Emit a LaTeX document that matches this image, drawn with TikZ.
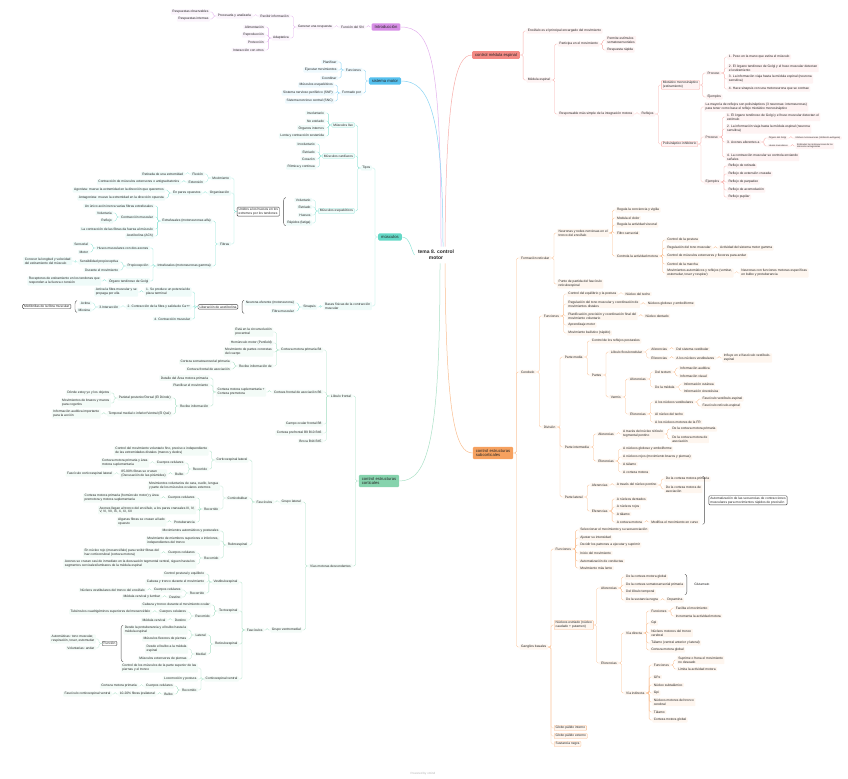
\documentclass[tikz,border=0pt]{standalone}
\usepackage{fontspec}
\setmainfont{Liberation Sans}
\definecolor{cpur}{HTML}{D78EE6}
\definecolor{cblu}{HTML}{55C0EE}
\definecolor{ctea}{HTML}{64D8C6}
\definecolor{cgre}{HTML}{86D3AD}
\definecolor{cred}{HTML}{F38A84}
\definecolor{cora}{HTML}{F6A15F}
\colorlet{brc}{cpur}

% child placed left / right of its parent and joined to it
\newcommand\lnode[5][]{%
  \path (#3.west) ++(-6,0) coordinate (tt);
  \node[sub,anchor=east,#1] (#2) at (tt |- 0,#4) {#5};
  \draw[lk] (#3.west) -- ++(-3,0) |- (#2.east);}
\newcommand\rnode[5][]{%
  \path (#3.east) ++(6,0) coordinate (tt);
  \node[sub,anchor=west,#1] (#2) at (tt |- 0,#4) {#5};
  \draw[lk] (#3.east) -- ++(3,0) |- (#2.west);}
% summary braces (widest node, top node, bottom node)
\newcommand\lbrc[3]{%
  \path (#1.west) ++(-2,0) coordinate (bx);
  \coordinate (bt) at (bx |- #2.north);
  \coordinate (bb) at (bx |- #3.south);
  \draw[brl] ([xshift=2bp]bt) to[out=180,in=90] ([yshift=-3bp]bt) -- ([yshift=3bp]bb) to[out=-90,in=180] ([xshift=2bp]bb);
  \path (bt) -- (bb) coordinate[pos=.5] (bm);}
\newcommand\rbrc[3]{%
  \path (#1.east) ++(2,0) coordinate (bx);
  \coordinate (bt) at (bx |- #2.north);
  \coordinate (bb) at (bx |- #3.south);
  \draw[brl] ([xshift=-2bp]bt) to[out=0,in=90] ([yshift=-3bp]bt) -- ([yshift=3bp]bb) to[out=-90,in=0] ([xshift=-2bp]bb);
  \path (bt) -- (bb) coordinate[pos=.5] (bm);}

\begin{document}
\begin{tikzpicture}[x=1bp,y=-1bp,
  every node/.style={font=\fontsize{3.3}{4}\selectfont, text=black!85},
  sub/.style={fill=brc!10, rounded corners=0.8bp, inner xsep=1.5bp, inner ysep=1bp, align=left},
  ob/.style={draw=brc!70, line width=0.3bp},
  tiny/.style={font=\fontsize{2.3}{2.8}\selectfont, inner ysep=0.6bp},
  lk/.style={draw=brc!70, line width=0.3bp, rounded corners=1.5bp},
  mn/.style={fill=brc, rounded corners=1.2bp, inner xsep=3bp, inner ysep=2bp, align=left, font=\fontsize{4.2}{5}\selectfont},
  mc/.style={draw=brc!70, line width=0.5bp},
  sm/.style={draw=black!75, line width=0.4bp, rounded corners=1bp, fill=white, inner xsep=1.5bp, inner ysep=1bp, align=left},
  brl/.style={draw=black!70, line width=0.4bp}]
\useasboundingbox (0,0) rectangle (848,779);

\node[font=\bfseries\fontsize{5}{6}\selectfont, align=center] (c) at (436,255) {tema 8. control\\motor};

% Introduccion
\begin{scope}
\colorlet{brc}{cpur}
\node[mn] (intro) at (386,27) {Introducción};
\draw[mc] ([xshift=5bp]c.north) .. controls (441,60) and (432,27) .. (intro.east);
\lnode{fsn}{intro}{27}{Función del SN}
\lnode{gres}{fsn}{27}{Generar una respuesta}
\lnode{rinf}{gres}{16}{Recibir información}
\lnode{adap}{gres}{38}{Adaptativa}
\lnode{proc}{rinf}{16}{Procesarla y analizarla}
\lnode{robs}{proc}{12}{Respuestas observables}
\lnode{rint}{proc}{19}{Respuestas internas}
\lnode{alim}{adap}{27}{Alimentación}
\lnode{repr}{adap}{35}{Reproducción}
\lnode{prot}{adap}{42}{Protección}
\lnode{intr}{adap}{50}{Interacción con otros}
\end{scope}

% sistema motor
\begin{scope}
\colorlet{brc}{cblu}
\node[mn] (smot) at (385,81) {sistema motor};
\draw[mc] ([xshift=7bp]c.north) .. controls (443,110) and (428,81) .. (smot.east);
\lnode{fun}{smot}{70}{Funciones}
\lnode{form}{smot}{93}{Formado por}
\lnode{plan}{fun}{62}{Planificar}
\lnode{ejec}{fun}{70}{Ejecutar movimientos}
\lnode{coor}{fun}{78}{Coordinar}
\lnode{mesq}{form}{85}{Músculos esqueléticos}
\lnode{snp}{form}{93}{Sistema nervioso periférico (SNP)}
\lnode{snc}{form}{101}{Sistema nervioso central (SNC)}
\end{scope}

% musculos
\begin{scope}
\colorlet{brc}{ctea}
\node[mn] (musc) at (390,237) {músculos};
\draw[mc] (c.west) .. controls (411,250) and (410,237) .. (musc.east);
\lnode{tipo}{musc}{168}{Tipos}
\lnode{bfis}{musc}{306}{Bases físicas de la contracción\\muscular}
\lnode[ob]{liso}{tipo}{125}{Músculos liso}
\lnode[ob]{card}{tipo}{156}{Músculos cardíacos}
\lnode[ob]{esq}{tipo}{211}{Músculos esqueléticos}
\lnode{li1}{liso}{113}{Involuntario}
\lnode{li2}{liso}{121}{No estriado}
\lnode{li3}{liso}{128}{Órganos internos}
\lnode{li4}{liso}{136}{Lenta y contracción sostenida}
\lnode{ca1}{card}{144}{Involuntario}
\lnode{ca2}{card}{152}{Estriado}
\lnode{ca3}{card}{159}{Corazón}
\lnode{ca4}{card}{167}{Rítmica y continua}
\lnode{es1}{esq}{200}{Voluntario}
\lnode{es2}{esq}{207}{Estriado}
\lnode{es3}{esq}{215}{Huesos}
\lnode{es4}{esq}{223}{Rápidos (fatiga)}
\lbrc{es4}{es1}{es4}
\node[sm,anchor=east] (unid) at ([xshift=-4bp]bm) {Unidos a los huesos en los\\extremos por los tendones};
\lnode{movi}{unid}{178}{Movimiento}
\lnode{orga}{unid}{193}{Organización}
\lnode{fibr}{unid}{244}{Fibras}
\lnode{flex}{movi}{174}{Flexión}
\lnode{exte}{movi}{182}{Extensión}
\lnode{reti}{flex}{174}{Retirada de una extremidad}
\lnode{cmex}{exte}{182}{Contracción de músculos extensores o antigravitatorios}
\lnode{pare}{orga}{193}{En pares opuestos}
\lnode{agon}{pare}{190}{Agonista: mueve la extremidad en la dirección que queremos}
\lnode{anta}{pare}{198}{Antagonista: mueve la extremidad en la dirección opuesta}
\lnode{extr}{fibr}{221}{Extrafusales (motoneuronas alfa)}
\lnode{intf}{fibr}{266}{Intrafusales (motoneuronas gamma)}
\lnode{ex1}{extr}{206}{Un único axón inerva varias fibras extrafusales}
\lnode{ex2}{extr}{217}{Contracción muscular}
\lnode{ex3}{extr}{229}{La contracción de las fibras da fuerza al músculo}
\lnode{ex4}{extr}{236}{Acetilcolina (ACh)}
\lnode{volu}{ex2}{213}{Voluntaria}
\lnode{refl}{ex2}{221}{Reflejo}
\lnode{huso}{intf}{248}{Husos musculares con dos axones}
\lnode{prop}{intf}{266}{Propiocepción}
\lnode{otgo}{intf}{281}{Órgano tendinoso de Golgi}
\lnode{sens}{huso}{244}{Sensorial}
\lnode{moto}{huso}{252}{Motor}
\lnode{spro}{prop}{262}{Sensibilidad propioceptiva}
\lnode{dmov}{prop}{270}{Durante el movimiento}
\lnode{cono}{spro}{261}{Conocer la longitud y velocidad\\del estiramiento del músculo}
\lnode{rece}{otgo}{281}{Receptores de estiramiento en los tendones que\\responden a la fuerza o tensión}
\lnode{sina}{bfis}{307}{Sinapsis}
\lnode{neur}{sina}{303}{Neurona eferente (motoneurona)}
\lnode{fmus}{sina}{311}{Fibra muscular}
\lbrc{neur}{neur}{fmus}
\node[sm,anchor=east] (libe) at ([xshift=-4bp]bm) {Liberación de acetilcolina};
\lnode{pot}{libe}{292}{1. Se produce un potencial de\\placa terminal}
\lnode{cfib}{libe}{307}{2. Contracción de la fibra y salida de Ca++}
\lnode{cmus}{libe}{319}{4. Contracción muscular}
\lnode{acti}{pot}{292}{Activa la fibra muscular y se\\propaga por ella}
\lnode{inte}{cfib}{307}{3.Interacción}
\lnode{acna}{inte}{303}{Actina}
\lnode{mios}{inte}{310}{Miosina}
\lbrc{mios}{acna}{mios}
\node[sm,anchor=east] (miof) at ([xshift=-4bp]bm) {Miofibrillas de la fibra muscular};
\end{scope}

% control estructuras corticales
\begin{scope}
\colorlet{brc}{cgre}
\node[mn] (cort) at (379,481) {control estructuras\\corticales};
\draw[mc] ([xshift=4bp]c.south) .. controls (440,440) and (428,481) .. (cort.east);
\lnode{lfro}{cort}{396}{Lóbulo frontal}
\lnode{vias}{cort}{566}{Vías motoras descendentes}
\lnode{cmp}{lfro}{350}{Corteza motora primaria B4}
\lnode{cfa}{lfro}{392}{Corteza frontal de asociación B6}
\lnode{cof}{lfro}{424}{Campo ocular frontal B8}
\lnode{cpf}{lfro}{433}{Corteza prefrontal B9 B10 B46}
\lnode{broc}{lfro}{441}{Broca B44 B45}
\lnode{circ}{cmp}{332}{Está en la circunvolución\\precentral}
\lnode{homu}{cmp}{343}{Homúnculo motor (Penfield)}
\lnode{mpar}{cmp}{352}{Movimiento de partes concretas\\del cuerpo}
\lnode{rinfa}{cmp}{366}{Recibe información de}
\lnode{csom}{rinfa}{362}{Corteza somatosensorial primaria}
\lnode{cfas}{rinfa}{369}{Corteza frontal de asociación}
\lnode{cmsp}{cfa}{392}{Corteza motora suplementaria +\\Corteza premotora}
\lnode{deta}{cmsp}{378}{Detalle del Área motora primaria}
\lnode{pmov}{cmsp}{385}{Planificar el movimiento}
\lnode{rinfb}{cmsp}{406}{Recibe información}
\lnode{pari}{rinfb}{398}{Parietal posterior/Dorsal (El Dónde)}
\lnode{temp}{rinfb}{414}{Temporal medial o inferior/Ventral (El Qué)}
\lnode{dond}{pari}{393}{Dónde estoy yo y los objetos}
\lnode{mbra}{pari}{403}{Movimientos de brazos y manos\\para cogerlos}
\lnode{iaud}{temp}{414}{Información auditiva importante\\para la acción}
\lnode{glat}{vias}{502}{Grupo lateral}
\lnode{gven}{vias}{630}{Grupo ventromedial}
\lnode{fasl}{glat}{502}{Fascículos}
\lnode{csl}{fasl}{460}{Corticoespinal lateral}
\lnode{cbul}{fasl}{498}{Corticobulbar}
\lnode{rube}{fasl}{545}{Rubroespinal}
\lnode{csla}{csl}{451}{Control del movimiento voluntario fino, preciso e independiente\\de las extremidades distales (manos y dedos)}
\lnode{cslb}{csl}{469}{Recorrido}
\lnode{cslc}{cslb}{463}{Cuerpos celulares}
\lnode{csld}{cslb}{474}{Bulbo}
\lnode{csle}{cslc}{463}{Corteza motora primaria y área\\motora suplementaria}
\lnode{cslf}{csld}{474}{85-90\% fibras se cruzan\\(Decusación de las pirámides)}
\lnode{cslg}{cslf}{474}{Fascículo corticoespinal lateral}
\lnode{cba}{cbul}{486}{Movimientos voluntarios de cara, cuello, lengua\\y parte de los músculos oculares externos}
\lnode{cbb}{cbul}{509}{Recorrido}
\lnode{cbc}{cbb}{498}{Cuerpos celulares}
\lnode{cbd}{cbb}{510}{Axones llegan al tronco del encéfalo, a los pares craneales III, IV,\\V, VI, VII, IX, X, XI, XII}
\lnode{cbe}{cbb}{522}{Protuberancia}
\lnode{cbf}{cbc}{498}{Corteza motora primaria (homúnculo motor) y área\\premotora y motora suplementaria}
\lnode{cbg}{cbe}{522}{Algunas fibras se cruzan al lado\\opuesto}
\lnode{rua}{rube}{531}{Movimientos automáticos y posturales}
\lnode{rub}{rube}{541}{Movimiento de miembros superiores e inferiores,\\independientes del tronco}
\lnode{ruc}{rube}{558}{Recorrido}
\lnode{rud}{ruc}{553}{Cuerpos celulares}
\lnode{rue}{ruc}{564}{Axones se cruzan casi de inmediato en la decusación tegmental ventral, siguen hasta los\\segmentos cervicales/lumbares de la médula espinal}
\lnode{ruf}{rud}{553}{En núcleo rojo (mesencéfalo) para recibir fibras del\\haz corticorrubral (corteza motora)}
\lnode{fasv}{gven}{630}{Fascículos}
\lnode{vest}{fasv}{582}{Vestibuloespinal}
\lnode{tect}{fasv}{611}{Tectoespinal}
\lnode{rtsp}{fasv}{644}{Reticuloespinal}
\lnode{csv}{fasv}{679}{Corticoespinal ventral}
\lnode{vea}{vest}{574}{Control postural y equilibrio}
\lnode{veb}{vest}{582}{Cabeza y tronco durante el movimiento}
\lnode{vec}{vest}{593}{Recorrido}
\lnode{ved}{vec}{590}{Cuerpos celulares}
\lnode{vee}{vec}{597}{Destino}
\lnode{vef}{ved}{590}{Núcleos vestibulares del tronco del encéfalo}
\lnode{veg}{vee}{597}{Médula cervical y lumbar}
\lnode{tea}{tect}{605}{Cabeza y tronco durante el movimiento ocular}
\lnode{teb}{tect}{616}{Recorrido}
\lnode{tec}{teb}{612}{Cuerpos celulares}
\lnode{ted}{teb}{620}{Destino}
\lnode{tee}{tec}{612}{Tubérculos cuadrigéminos superiores del mesencéfalo}
\lnode{tef}{ted}{620}{Médula cervical}
\lnode{rta}{rtsp}{635}{Lateral}
\lnode{rtb}{rtsp}{654}{Medial}
\lnode{rtc}{rta}{630}{Desde la protuberancia y el bulbo hasta la\\médula espinal}
\lnode{rtd}{rta}{639}{Músculos flexores de piernas}
\lnode{rte}{rtb}{649}{Desde el bulbo a la médula\\espinal}
\lnode{rtf}{rtb}{659}{Músculos extensores de piernas}
\lbrc{rtc}{rtc}{rtf}
\node[sm,anchor=east] (func) at ([xshift=-4bp]bm) {Función};
\lnode{auto}{func}{639}{Automáticas: tono muscular,\\respiración, toser, estornudar}
\lnode{vand}{func}{648}{Voluntarias: andar}
\lnode{cva}{csv}{668}{Control de los músculos de la parte superior de las\\piernas y el tronco}
\lnode{cvb}{csv}{679}{Locomoción y postura}
\lnode{cvc}{csv}{690}{Recorrido}
\lnode{cvd}{cvc}{686}{Cuerpos celulares}
\lnode{cve}{cvc}{694}{Bulbo}
\lnode{cvf}{cvd}{686}{Corteza motora primaria}
\lnode{cvg}{cve}{694}{10-20\% fibras ipsilateral}
\lnode{cvh}{cvg}{694}{Fascículo corticoespinal ventral}
\end{scope}

% control medula espinal
\begin{scope}
\colorlet{brc}{cred}
\node[mn] (med) at (496,55) {control médula espinal};
\draw[mc] ([xshift=9bp]c.north) .. controls (446,90) and (456,55) .. (med.west);
\rnode{ence}{med}{31}{Encéfalo es el principal encargado del movimiento}
\rnode{mesp}{med}{80}{Médula espinal}
\rnode{part}{mesp}{44}{Participa en el movimiento}
\rnode{resp}{mesp}{114}{Responsable más simple de la integración motora}
\rnode{pest}{part}{40}{Permite estímulos\\somatosensoriales}
\rnode{rrap}{part}{50}{Respuesta rápida}
\rnode{refs}{resp}{114}{Reflejos}
\rnode[ob]{miot}{refs}{85}{Miotático monosináptico\\(estiramiento)}
\rnode[ob]{poli}{refs}{144}{Polisináptico inhibitorio}
\rnode{mpro}{miot}{73}{Proceso}
\rnode{mejm}{miot}{97}{Ejemplos}
\rnode{mpa}{mpro}{57}{1. Peso en la mano que estira el músculo}
\rnode{mpb}{mpro}{68}{2. El órgano tendinoso de Golgi y el huso muscular detectan\\el estiramiento}
\rnode{mpc}{mpro}{79}{3. La información viaja hasta la médula espinal (neurona\\sensitiva)}
\rnode{mpd}{mpro}{89}{4. Hace sinapsis con una motoneurona que se contrae}
\rnode{pmay}{poli}{107}{La mayoría de reflejos son polisinápticos (3 neuronas: interneuronas)\\para tener como base el reflejo miotático monosináptico}
\rnode{ppro}{poli}{137}{Proceso}
\rnode{pejm}{poli}{182}{Ejemplos}
\rnode{ppa}{ppro}{117}{1. El órgano tendinoso de Golgi y el huso muscular detectan el\\estímulo}
\rnode{ppb}{ppro}{129}{2. La información viaja hasta la médula espinal (neurona\\sensitiva)}
\rnode{ppc}{ppro}{142}{3. Axones aferentes a}
\rnode{ppd}{ppro}{157}{4. La contracción muscular se controla enviando\\señales}
\rnode[tiny]{ppe}{ppc}{138}{Órgano del Golgi}
\rnode[tiny]{ppf}{ppc}{146}{Husos musculares}
\rnode[tiny]{ppg}{ppe}{138}{Inhiben motoneuronas (inhibición autógena)}
\rnode[tiny]{pph}{ppf}{146}{Estimulan las motoneuronas de los\\músculos antagonistas}
\rnode{pea}{pejm}{166}{Reflejo de retirada}
\rnode{peb}{pejm}{174}{Reflejo de extensión cruzada}
\rnode{pec}{pejm}{182}{Reflejo de parpadeo}
\rnode{ped}{pejm}{190}{Reflejo de acomodación}
\rnode{pee}{pejm}{197}{Reflejo pupilar}
\end{scope}

% control estructuras subcorticales
\begin{scope}
\colorlet{brc}{cora}
\node[mn] (subc) at (493,453) {control estructuras\\subcorticales};
\draw[mc] ([xshift=9bp]c.south) .. controls (446,420) and (456,453) .. (subc.west);
\rnode{fret}{subc}{258}{Formación reticular}
\rnode{cere}{subc}{372}{Cerebelo}
\rnode{gbas}{subc}{647}{Ganglios basales}
\rnode{neuro}{fret}{233}{Neuronas y redes nerviosas en el\\tronco del encéfalo}
\rnode{ppar}{fret}{284}{Punto de partida del fascículo\\reticuloespinal}
\rnode{fra}{neuro}{210}{Regula la conciencia y vigilia}
\rnode{frb}{neuro}{218}{Modula el dolor}
\rnode{frc}{neuro}{225}{Regula la actividad visceral}
\rnode{frd}{neuro}{233}{Filtro sensorial}
\rnode{fre}{neuro}{256}{Controla la actividad motora}
\rnode{frf}{fre}{240}{Control de la postura}
\rnode{frg}{fre}{248}{Regulación del tono muscular}
\rnode{frh}{fre}{256}{Control de músculos extensores y flexores para andar}
\rnode{fri}{fre}{264}{Control de la marcha}
\rnode{frj}{fre}{273}{Movimientos automáticos y reflejos (vomitar,\\estornudar, toser y respirar)}
\rnode{frk}{frg}{248}{Actividad del sistema motor gamma}
\rnode{frl}{frj}{273}{Neuronas con funciones motoras específicas\\en bulbo y protuberancia}
\rnode{cfun}{cere}{316}{Funciones}
\rnode{cdiv}{cere}{427}{División}
\rnode{cfa}{cfun}{294}{Control del equilibrio y la postura}
\rnode{cfb}{cfun}{304}{Regulación del tono muscular y coordinación de\\movimientos distales}
\rnode{cfc}{cfun}{316}{Planificación, precisión y coordinación final del\\movimiento voluntario}
\rnode{cfd}{cfun}{325}{Aprendizaje motor}
\rnode{cfe}{cfun}{333}{Movimiento balístico (rápido)}
\rnode{cff}{cfa}{294}{Núcleo del techo}
\rnode{cfg}{cfb}{304}{Núcleos globoso y emboliforme}
\rnode{cfh}{cfc}{316}{Núcleo dentado}
\rnode{pmed}{cdiv}{357}{Parte media}
\rnode{pint}{cdiv}{447}{Parte intermedia}
\rnode{plat}{cdiv}{497}{Parte lateral}
\rnode{pma}{pmed}{341}{Control de los reflejos posturales}
\rnode{pmb}{pmed}{375}{Partes}
\rnode{lflo}{pmb}{352}{Lóbulo floculonodular}
\rnode{verm}{pmb}{397}{Vermis}
\rnode{lfa}{lflo}{349}{Aferencias}
\rnode{lfb}{lflo}{358}{Eferencias}
\rnode{lfc}{lfa}{349}{Del sistema vestibular}
\rnode{lfd}{lfb}{358}{A los núcleos vestibulares}
\rnode{lfe}{lfd}{358}{Influye en el fascículo vestíbulo-\\espinal}
\rnode{vma}{verm}{379}{Aferencias}
\rnode{vmb}{verm}{414}{Eferencias}
\rnode{vmc}{vma}{372}{Del tectum}
\rnode{vmd}{vma}{387}{De la médula}
\rnode{vme}{vmc}{368}{Información auditiva}
\rnode{vmf}{vmc}{376}{Información visual}
\rnode{vmg}{vmd}{384}{Información cutánea}
\rnode{vmh}{vmd}{391}{Información cinestésica}
\rnode{vmi}{vmb}{402}{A los núcleos vestibulares}
\rnode{vmj}{vmb}{414}{Al núcleo del techo}
\rnode{vmk}{vmb}{422}{A los núcleos motores de la FR}
\rnode{vml}{vmi}{399}{Fascículo vestíbulo-espinal}
\rnode{vmm}{vmi}{406}{Fascículo retículo-espinal}
\rnode{pia}{pint}{434}{Aferencias}
\rnode{pib}{pint}{461}{Eferencias}
\rnode{pic}{pia}{434}{A través del núcleo rétículo\\tegmental pontino}
\rnode{pid}{pic}{429}{De la corteza motora primaria}
\rnode{pie}{pic}{439}{De la corteza motora de\\asociación}
\rnode{pif}{pib}{449}{A núcleos globoso y emboliforme}
\rnode{pig}{pib}{457}{A núcleos rojos (movimiento brazos y piernas)}
\rnode{pih}{pib}{464}{A tálamo}
\rnode{pii}{pib}{472}{A corteza motora}
\rnode{pla}{plat}{485}{Aferencias}
\rnode{plb}{plat}{511}{Eferencias}
\rnode{plc}{pla}{485}{A través del núcleo pontino}
\rnode{pld}{plc}{479}{De la corteza motora primaria}
\rnode{ple}{plc}{489}{De la corteza motora de\\asociación}
\rnode{plf}{plb}{499}{A núcleos dentados}
\rnode{plg}{plb}{507}{A núcleos rojos}
\rnode{plh}{plb}{514}{A tálamo}
\rnode{pli}{plb}{522}{A corteza motora}
\rnode{plj}{pli}{522}{Modifica el movimiento en curso}
\rbrc{ple}{pld}{pli}
\node[sm,anchor=west] (autm) at ([xshift=4bp]bm) {Automatización de las secuencias de contracciones\\musculares para movimientos rápidos de precisión};
\rnode{gfun}{gbas}{549}{Funciones}
\rnode[ob]{nest}{gbas}{625}{Núcleos estriado (núcleo\\caudado + putamen)}
\rnode[ob]{gpin}{gbas}{728}{Globo pálido interno}
\rnode[ob]{gpex}{gbas}{736}{Globo pálido externo}
\rnode[ob]{snig}{gbas}{744}{Sustancia negra}
\rnode{gfa}{gfun}{530}{Seleccionar el movimiento y su secuenciación}
\rnode{gfb}{gfun}{538}{Ajustar su intensidad}
\rnode{gfc}{gfun}{545}{Decidir los patrones a ejecutar y suprimir}
\rnode{gfd}{gfun}{553}{Inicio del movimiento}
\rnode{gfe}{gfun}{561}{Automatización de conductas}
\rnode{gff}{gfun}{568}{Movimiento más lento}
\rnode{naf}{nest}{588}{Aferencias}
\rnode{nef}{nest}{663}{Eferencias}
\rnode{naa}{naf}{577}{De la corteza motora global}
\rnode{nab}{naf}{585}{De la corteza somatosensorial primaria}
\rnode{nac}{naf}{592}{Del lóbulo temporal}
\rnode{nad}{naf}{600}{De la sustancia negra}
\rnode{nae}{nad}{600}{Dopamina}
\rbrc{nab}{naa}{nac}
\node[anchor=west] (glut) at ([xshift=4bp]bm) {Glutamato};
\rnode{vdir}{nef}{633}{Vía directa}
\rnode{vind}{nef}{693}{Vía indirecta}
\rnode{vda}{vdir}{611}{Funciones}
\rnode{vdb}{vdir}{623}{Gpi}
\rnode{vdc}{vdir}{633}{Núcleos motores del tronco\\cerebral}
\rnode{vdd}{vdir}{643}{Tálamo (ventral anterior y lateral)}
\rnode{vde}{vdir}{650}{Corteza motora global}
\rnode{vdf}{vda}{608}{Facilita el movimiento}
\rnode{vdg}{vda}{616}{Incrementa la actividad motora}
\rnode{via}{vind}{665}{Funciones}
\rnode{vib}{vind}{677}{GPe}
\rnode{vic}{vind}{685}{Núcleo subtalámico}
\rnode{vid}{vind}{693}{Gpi}
\rnode{vie}{vind}{702}{Núcleos motores del tronco\\cerebral}
\rnode{vif}{vind}{712}{Tálamo}
\rnode{vig}{vind}{720}{Corteza motora global}
\rnode{vih}{via}{660}{Suprime o frena el movimiento\\no deseado}
\rnode{vii}{via}{669}{Limita la actividad motora}
\end{scope}

\node[text=black!30, font=\fontsize{3}{3.5}\selectfont] (pwr) at (423,774) {Powered by xmind};
\end{tikzpicture}
\end{document}
